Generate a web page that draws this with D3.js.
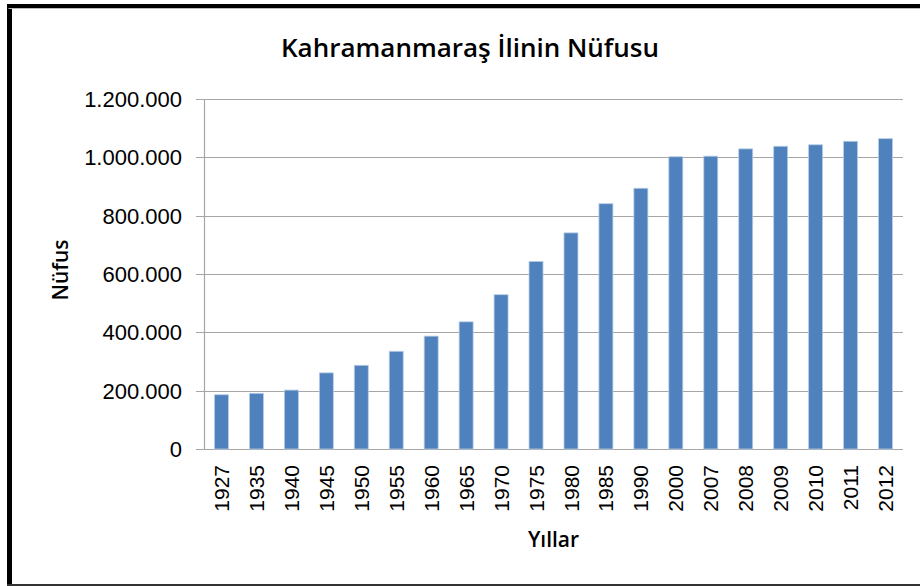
<!DOCTYPE html>
<html>
<head>
<meta charset="utf-8">
<script src="https://cdn.jsdelivr.net/npm/d3@7"></script>
<style>
	body { margin: 0; background: #fff; }
	svg { display: block; }
	text { font-family: "Liberation Sans", Arial, sans-serif; fill: #000; }
	.ttl { font-family: "Open Sans", "Liberation Sans", sans-serif; font-weight: 600; }
</style>
</head>
<body>
<svg id="chart" width="920" height="586"></svg>
<script>
// yillar ve nufus
var years = ["1927", "1935", "1940", "1945", "1950", "1955", "1960", "1965", "1970", "1975",
	"1980", "1985", "1990", "2000", "2007", "2008", "2009", "2010", "2011", "2012"];
var population = [186000, 191000, 202000, 261000, 287000, 335000, 387000, 436000, 529000, 643000,
	741000, 841000, 894000, 1002000, 1004000, 1029000, 1038000, 1043000, 1055000, 1064000];
var yTicks = [0, 200000, 400000, 600000, 800000, 1000000, 1200000];

var title = "Kahramanmaraş İlinin Nüfusu";
var xTitle = "Yıllar";
var yTitle = "Nüfus";

var svg = d3.select("#chart"),
    margin = {top: 99, right: 17, bottom: 137, left: 204},
    width = +svg.attr("width") - margin.left - margin.right,
    height = +svg.attr("height") - margin.top - margin.bottom;

// cerceve
svg.append("rect").attr("x", 0).attr("y", 0).attr("width", 920).attr("height", 586).attr("fill", "#fff");
svg.append("line").attr("x1", 9.5).attr("x2", 9.5).attr("y1", 4).attr("y2", 586)
	.attr("stroke", "#000").attr("stroke-width", 5);
svg.append("line").attr("x1", 7).attr("x2", 920).attr("y1", 6).attr("y2", 6)
	.attr("stroke", "#000").attr("stroke-width", 4);
svg.append("line").attr("x1", 8.5).attr("x2", 920).attr("y1", 8.5).attr("y2", 8.5)
	.attr("stroke", "#bbb").attr("stroke-width", 1);
svg.append("line").attr("x1", 7).attr("x2", 920).attr("y1", 585).attr("y2", 585)
	.attr("stroke", "#333").attr("stroke-width", 2);

var x = d3.scaleBand().domain(years).range([0, width]).paddingInner(0.6).paddingOuter(0.3),
    y = d3.scaleLinear().domain([0, 1200000]).range([height, 0]);

var fmt = function(d) { return d3.format(",")(d).replace(/,/g, "."); };

var g = svg.append("g")
    .attr("transform", "translate(" + margin.left + "," + margin.top + ")");

// yatay izgara
g.selectAll(".grid").data(yTicks)
	.enter().append("line")
	.attr("class", "grid")
	.attr("x1", -8).attr("x2", width)
	.attr("y1", function(d) { return Math.round(y(d)) + 0.5; })
	.attr("y2", function(d) { return Math.round(y(d)) + 0.5; })
	.attr("stroke", "#a6a6a6").attr("stroke-width", 1.2);

g.append("line")
	.attr("x1", 0.5).attr("x2", 0.5).attr("y1", 0).attr("y2", height)
	.attr("stroke", "#a6a6a6").attr("stroke-width", 1.2);

// y ekseni etiketleri
g.selectAll(".ylab").data(yTicks)
	.enter().append("text")
	.attr("class", "ylab")
	.attr("x", -22)
	.attr("y", function(d) { return y(d); })
	.attr("dy", "0.36em")
	.attr("text-anchor", "end")
	.style("font-size", "22px")
	.text(fmt);

// sutunlar
g.selectAll(".bar").data(population)
	.enter().append("rect")
	.attr("class", "bar")
	.attr("x", function(d, i) { return x(years[i]); })
	.attr("width", x.bandwidth())
	.attr("y", function(d) { return y(d); })
	.attr("height", function(d) { return height - y(d); })
	.attr("fill", "#4f81bd")
	.attr("stroke", "#b9cde5")
	.attr("stroke-width", 0.8);

// x ekseni etiketleri (dikey)
g.selectAll(".xlab").data(years)
	.enter().append("text")
	.attr("class", "xlab")
	.attr("transform", function(d) {
		return "translate(" + (x(d) + x.bandwidth() / 2) + "," + (height + 16) + ") rotate(-90)";
	})
	.attr("dy", "0.36em")
	.attr("text-anchor", "end")
	.style("font-size", "21px")
	.text(function(d) { return d; });

// basliklar
svg.append("text")
	.attr("class", "ttl")
	.attr("x", 470).attr("y", 57)
	.attr("text-anchor", "middle")
	.style("font-size", "26px")
	.text(title);

svg.append("text")
	.attr("class", "ttl")
	.attr("x", margin.left + width / 2).attr("y", 547)
	.attr("text-anchor", "middle")
	.style("font-size", "21px")
	.text(xTitle);

svg.append("text")
	.attr("class", "ttl")
	.attr("transform", "translate(68,270) rotate(-90)")
	.attr("text-anchor", "middle")
	.style("font-size", "21px")
	.text(yTitle);
</script>
</body>
</html>
